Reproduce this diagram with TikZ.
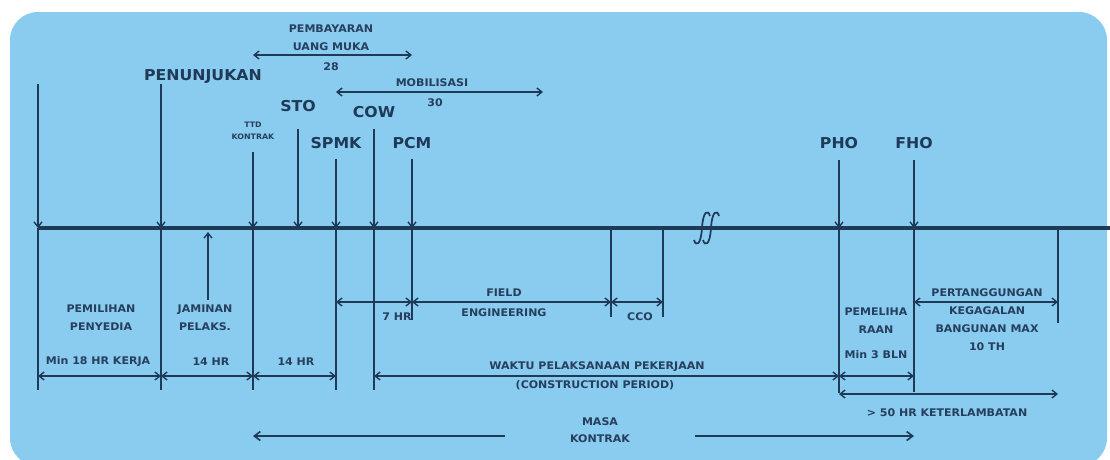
\documentclass[tikz,border=0pt]{standalone}
\usepackage{fontspec}
\setmainfont{DejaVu Sans}
\usetikzlibrary{arrows.meta}
\definecolor{skyback}{HTML}{8ACBF0}
\definecolor{inkblue}{HTML}{1F3A57}
\definecolor{textblue}{HTML}{263F5C}
\newfontfamily\lblfont[FakeStretch=1.05]{DejaVu Sans}

\begin{document}
\begin{tikzpicture}[x=1pt,y=-1pt,
    event/.style={font=\lblfont\bfseries\fontsize{15}{17}\selectfont,text=inkblue,inner sep=0pt},
    lbl/.style={font=\lblfont\bfseries\fontsize{10.5}{18}\selectfont,text=textblue,align=center,inner sep=0pt},
    tiny/.style={font=\lblfont\bfseries\fontsize{7.5}{12}\selectfont,text=textblue,align=center,inner sep=0pt},
    down/.style={draw=inkblue,line width=1.4pt,-{Straight Barb[length=5pt,width=8pt]}},
    tick/.style={draw=inkblue,line width=1.4pt},
    dim/.style={draw=inkblue,line width=1.4pt,{Straight Barb[length=5pt,width=8pt]}-{Straight Barb[length=5pt,width=8pt]}},
    one/.style={draw=inkblue,line width=1.6pt,-{Straight Barb[length=6pt,width=9pt]}}]
        \useasboundingbox (0,0) rectangle (1110,459);
        \fill[skyback,rounded corners=28pt] (10,12) rectangle (1107,466);
        % points on the time line
        \coordinate (t0) at (38,228);
        \coordinate (pen) at (161,228);
        \coordinate (ttd) at (253,228);
        \coordinate (sto) at (298,228);
        \coordinate (spmk) at (336,228);
        \coordinate (cow) at (374,228);
        \coordinate (pcm) at (412,228);
        \coordinate (fe) at (611,228);
        \coordinate (cco) at (663,228);
        \coordinate (pho) at (839,228);
        \coordinate (fho) at (914,228);
        \coordinate (ptg) at (1058,228);
        \coordinate (tend) at (1110,228);
        \coordinate (t0top) at (38,84);
        \coordinate (jam) at (208,232);
        \coordinate (jamb) at (208,300);
        \coordinate (mobR) at (543,92);
        \coordinate (masaL) at (505,436);
        \coordinate (masaR) at (695,436);
        % rows of the spans
        \coordinate (rowP) at (0,55);
        \coordinate (rowM) at (0,92);
        \coordinate (rowF) at (0,302);
        \coordinate (rowD) at (0,376);
        \coordinate (rowK) at (0,394);
        \coordinate (rowT) at (0,436);
        % events
        \node[event] (Lpen) at (203,77) {PENUNJUKAN};
        \node[event] (Lsto) at (298,106) {STO};
        \node[event] (Lspmk) at (336,143) {SPMK};
        \node[event] (Lcow) at (374,112) {COW};
        \node[event] (Lpcm) at (412,143) {PCM};
        \node[event] (Lpho) at (839,143) {PHO};
        \node[event] (Lfho) at (914,143) {FHO};
        \node[tiny] (Lttd) at (253,131) {TTD\\KONTRAK};
        \draw[down] (t0top) -- (t0);
        \draw[down] (Lpen.south -| pen) -- (pen);
        \draw[down,shorten <=12pt] (Lttd.south) -- (ttd);
        \draw[down,shorten <=17pt] (Lsto.south) -- (sto);
        \draw[down,shorten <=10pt] (Lspmk.south) -- (spmk);
        \draw[down,shorten <=11pt] (Lcow.south) -- (cow);
        \draw[down,shorten <=10pt] (Lpcm.south) -- (pcm);
        \draw[down,shorten <=11pt] (Lpho.south) -- (pho);
        \draw[down,shorten <=11pt] (Lfho.south) -- (fho);
        \draw[down] (jamb) -- (jam);
        % ticks below the line
        \draw[tick] (t0) -- ++(0,162);
        \draw[tick] (pen) -- ++(0,162);
        \draw[tick] (ttd) -- ++(0,162);
        \draw[tick] (spmk) -- ++(0,162);
        \draw[tick] (cow) -- ++(0,162);
        \draw[tick] (pcm) -- ++(0,92);
        \draw[tick] (fe) -- ++(0,89);
        \draw[tick] (cco) -- ++(0,89);
        \draw[tick] (pho) -- ++(0,165);
        \draw[tick] (fho) -- ++(0,164);
        \draw[tick] (ptg) -- ++(0,95);
        \draw[inkblue,line width=4pt] (t0) -- (tend);
        \draw[inkblue,line width=1.7pt] (694,240) .. controls (696,247) and (701,245) .. (702,228) .. controls (703,211) and (708,209) .. (710,216);
        \draw[inkblue,line width=1.7pt] (703,240) .. controls (705,247) and (710,245) .. (711,228) .. controls (712,211) and (717,209) .. (719,216);
        % spans
        \draw[dim] (ttd |- rowP) -- (pcm |- rowP);
        \draw[dim] (spmk |- rowM) -- (mobR);
        \draw[dim] (spmk |- rowF) -- (pcm |- rowF);
        \draw[dim] (pcm |- rowF) -- (fe |- rowF);
        \draw[dim] (fe |- rowF) -- (cco |- rowF);
        \draw[dim] (fho |- rowF) -- (ptg |- rowF);
        \draw[dim] (t0 |- rowD) -- (pen |- rowD);
        \draw[dim] (pen |- rowD) -- (ttd |- rowD);
        \draw[dim] (ttd |- rowD) -- (spmk |- rowD);
        \draw[dim] (cow |- rowD) -- (pho |- rowD);
        \draw[dim] (pho |- rowD) -- (fho |- rowD);
        \draw[dim] (pho |- rowK) -- (ptg |- rowK);
        \draw[one] (masaL) -- (ttd |- rowT);
        \draw[one] (masaR) -- (fho |- rowT);
        % span labels
        \node[lbl] (lPemb) at (331,38) {PEMBAYARAN\\UANG MUKA};
        \node[lbl] (l28) at (331,67) {28};
        \node[lbl] (lMob) at (432,83) {MOBILISASI};
        \node[lbl] (l30) at (435,103) {30};
        \node[lbl] (lPemil) at (101,318) {PEMILIHAN\\PENYEDIA};
        \node[lbl] (lJam) at (205,318) {JAMINAN\\PELAKS.};
        \node[lbl] (lMin18) at (98,362) {Min 18 HR KERJA};
        \node[lbl] (l14a) at (211,362) {14 HR};
        \node[lbl] (l14b) at (296,362) {14 HR};
        \node[lbl] (l7hr) at (397,317) {7 HR};
        \node[lbl] (lField) at (504,293) {FIELD};
        \node[lbl] (lEng) at (504,313) {ENGINEERING};
        \node[lbl] (lCco) at (640,317) {CCO};
        \node[lbl] (lWaktu) at (597,367) {WAKTU PELAKSANAAN PEKERJAAN};
        \node[lbl] (lCons) at (595,385) {(CONSTRUCTION PERIOD)};
        \node[lbl] (lPemel) at (876,321) {PEMELIHA\\RAAN};
        \node[lbl] (lMin3) at (876,355) {Min 3 BLN};
        \node[lbl] (lPert) at (987,320) {PERTANGGUNGAN\\KEGAGALAN\\BANGUNAN MAX\\10 TH};
        \node[lbl] (lTelat) at (947,413) {> 50 HR KETERLAMBATAN};
        \node[lbl,font=\lblfont\bfseries\fontsize{10.5}{17}\selectfont] (lMasa) at (600,430) {MASA\\KONTRAK};
      \end{tikzpicture}
\end{document}
